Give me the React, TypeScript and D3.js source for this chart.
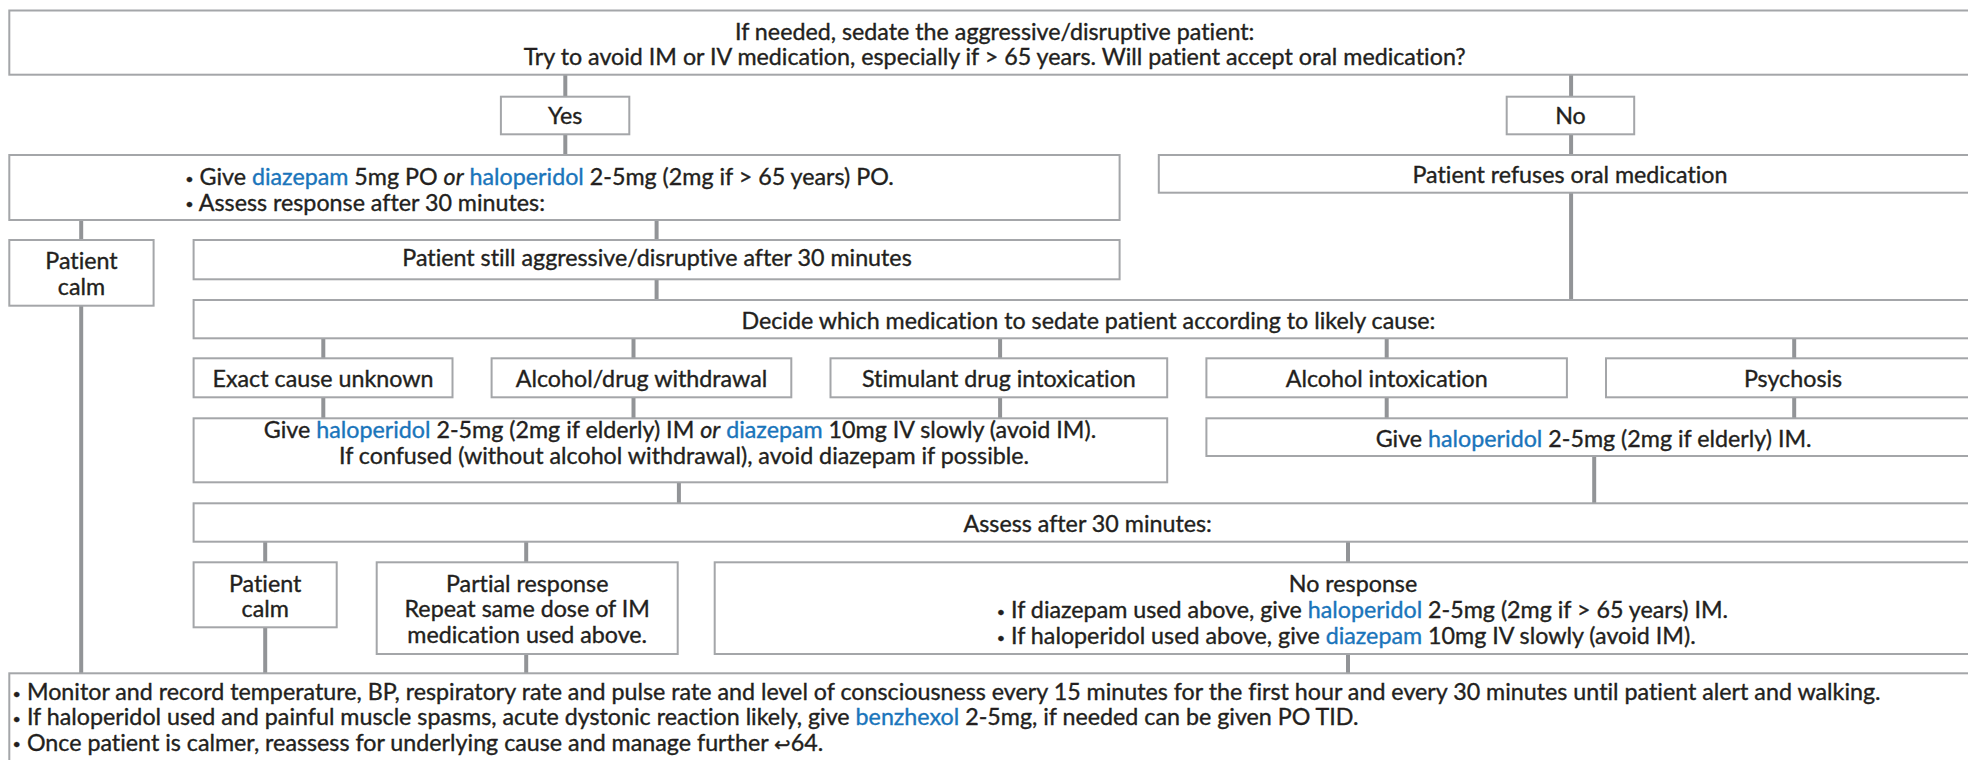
import React, { useEffect, useRef } from "react";
import * as d3 from "d3";

type Seg = { t: string; blue?: boolean; it?: boolean; sym?: boolean; bul?: boolean };

// ---------- text content ----------
const questionLines = [
  "If needed, sedate the aggressive/disruptive patient:",
  "Try to avoid IM or IV medication, especially if > 65 years. Will patient accept oral medication?",
];
const answerLabels = ["Yes", "No"];
const BUL: Seg = { t: "•", bul: true };
const oralLines: Seg[][] = [
  [BUL, { t: " Give " }, { t: "diazepam", blue: true }, { t: " 5mg PO " }, { t: "or", it: true }, { t: " " }, { t: "haloperidol", blue: true }, { t: " 2-5mg (2mg if > 65 years) PO." }],
  [BUL, { t: " Assess response after 30 minutes:" }],
];
const refuseText = "Patient refuses oral medication";
const calmLines = ["Patient", "calm"];
const stillText = "Patient still aggressive/disruptive after 30 minutes";
const decideText = "Decide which medication to sedate patient according to likely cause:";
const causes = ["Exact cause unknown", "Alcohol/drug withdrawal", "Stimulant drug intoxication", "Alcohol intoxication", "Psychosis"];
const imIvLines: Seg[][] = [
  [{ t: "Give " }, { t: "haloperidol", blue: true }, { t: " 2-5mg (2mg if elderly) IM " }, { t: "or", it: true }, { t: " " }, { t: "diazepam", blue: true }, { t: " 10mg IV slowly (avoid IM)." }],
  [{ t: "If confused (without alcohol withdrawal), avoid diazepam if possible." }],
];
const haloImLine: Seg[] = [{ t: "Give " }, { t: "haloperidol", blue: true }, { t: " 2-5mg (2mg if elderly) IM." }];
const assessText = "Assess after 30 minutes:";
const partialLines = ["Partial response", "Repeat same dose of IM", "medication used above."];
const noRespTitle = "No response";
const noRespLines: Seg[][] = [
  [BUL, { t: " If diazepam used above, give " }, { t: "haloperidol", blue: true }, { t: " 2-5mg (2mg if > 65 years) IM." }],
  [BUL, { t: " If haloperidol used above, give " }, { t: "diazepam", blue: true }, { t: " 10mg IV slowly (avoid IM)." }],
];
const monitorLines: Seg[][] = [
  [BUL, { t: " Monitor and record temperature, BP, respiratory rate and pulse rate and level of consciousness every 15 minutes for the first hour and every 30 minutes until patient alert and walking." }],
  [BUL, { t: " If haloperidol used and painful muscle spasms, acute dystonic reaction likely, give " }, { t: "benzhexol", blue: true }, { t: " 2-5mg, if needed can be given PO TID." }],
  [BUL, { t: " Once patient is calmer, reassess for underlying cause and manage further " }, { t: "↩", sym: true }, { t: "64." }],
];

// ---------- layout ----------
const R = 1995; // boxes run past the right edge
const B = 790; // bottom box runs past the lower edge
const boxes = [
  [9.3, R, 10.5, 74.7],
  [500.9, 629.3, 96.7, 134.3],
  [1506.7, 1634.2, 96.7, 134.3],
  [9.3, 1119.6, 155, 220],
  [1158.8, R, 155, 192.7],
  [9.3, 153.6, 240, 305.7],
  [193.6, 1119.6, 240, 279.3],
  [193.6, R, 300, 338.3],
  [193.6, 452.5, 358.3, 397.3],
  [491.6, 791.3, 358.3, 397.3],
  [830.5, 1167.2, 358.3, 397.3],
  [1206.4, 1566.9, 358.3, 397.3],
  [1606, R, 358.3, 397.3],
  [193.6, 1167.2, 418.3, 482.3],
  [1206.4, R, 418.3, 456],
  [193.6, R, 503.3, 541.7],
  [193.6, 336.7, 562.3, 627.3],
  [376.7, 677.7, 562.3, 654],
  [714.7, R, 562.3, 654],
  [9.3, R, 673.3, B],
];
const connectors = [
  [565.3, 74.7, 96.7], [565.3, 134.3, 155],
  [1571.1, 74.7, 96.7], [1571.1, 134.3, 155], [1571.1, 192.7, 300],
  [81.2, 220, 240], [81.2, 305.7, 673.3],
  [656.6, 220, 240], [656.6, 279.3, 300],
  [323.3, 338.3, 358.3], [633.5, 338.3, 358.3], [1000.1, 338.3, 358.3], [1386.7, 338.3, 358.3], [1794.2, 338.3, 358.3],
  [323.3, 397.3, 418.3], [633.5, 397.3, 418.3], [1000.1, 397.3, 418.3], [1386.7, 397.3, 418.3], [1794.2, 397.3, 418.3],
  [678.9, 482.3, 503.3], [1594.2, 456, 503.3],
  [265.2, 541.7, 562.3], [265.2, 627.3, 673.3],
  [526.2, 541.7, 562.3], [526.2, 654, 673.3],
  [1348, 541.7, 562.3], [1348, 654, 673.3],
];
const causeCenters = [323, 641.5, 998.9, 1386.7, 1793];

type TL = { x: number; y: number; a: "middle" | "start"; segs: Seg[] };
const P = (t: string): Seg[] => [{ t }];

const texts: TL[] = [
  { x: 994.7, y: 39.5, a: "middle", segs: P(questionLines[0]) },
  { x: 994.7, y: 65, a: "middle", segs: P(questionLines[1]) },
  { x: 565.1, y: 124.3, a: "middle", segs: P(answerLabels[0]) },
  { x: 1570.5, y: 124.3, a: "middle", segs: P(answerLabels[1]) },
  { x: 185.2, y: 185, a: "start", segs: oralLines[0] },
  { x: 185.2, y: 210.7, a: "start", segs: oralLines[1] },
  { x: 1570, y: 183.3, a: "middle", segs: P(refuseText) },
  { x: 81.5, y: 269.3, a: "middle", segs: P(calmLines[0]) },
  { x: 81.5, y: 295, a: "middle", segs: P(calmLines[1]) },
  { x: 657, y: 266, a: "middle", segs: P(stillText) },
  { x: 1088.4, y: 329, a: "middle", segs: P(decideText) },
  ...causes.map((c, i) => ({ x: causeCenters[i], y: 386.7, a: "middle" as const, segs: P(c) })),
  { x: 680, y: 438.3, a: "middle", segs: imIvLines[0] },
  { x: 684, y: 464, a: "middle", segs: imIvLines[1] },
  { x: 1593.6, y: 446.7, a: "middle", segs: haloImLine },
  { x: 1087.7, y: 532.3, a: "middle", segs: P(assessText) },
  { x: 265.2, y: 591.7, a: "middle", segs: P(calmLines[0]) },
  { x: 265.2, y: 616.7, a: "middle", segs: P(calmLines[1]) },
  { x: 527.2, y: 591.7, a: "middle", segs: P(partialLines[0]) },
  { x: 527.2, y: 617.3, a: "middle", segs: P(partialLines[1]) },
  { x: 527.2, y: 642.7, a: "middle", segs: P(partialLines[2]) },
  { x: 1353, y: 591.7, a: "middle", segs: P(noRespTitle) },
  { x: 996.7, y: 618.3, a: "start", segs: noRespLines[0] },
  { x: 996.7, y: 644, a: "start", segs: noRespLines[1] },
  { x: 12.6, y: 700, a: "start", segs: monitorLines[0] },
  { x: 12.6, y: 725, a: "start", segs: monitorLines[1] },
  { x: 12.6, y: 750.5, a: "start", segs: monitorLines[2] },
];

const FONT = "Lato, 'Noto Sans', sans-serif";
const FS = 22.5;
const TEXT = "#231f20";
const BLUE = "#1a75bb";
const BOX = "#a4a6a9";
const LINK = "#929497";

// calibration strings and their widths in the reference
const calib: [string, number][] = [
  [refuseText, 313.6],
  [decideText, 698.5],
  [causes[0], 218.8],
];

export default function App() {
  const ref = useRef<SVGSVGElement | null>(null);

  useEffect(() => {
    const draw = () => {
      const svg = d3.select(ref.current!);
      svg.selectAll("*").remove();

      let measured = 0;
      let target = 0;
      calib.forEach(([s, w]) => {
        const t = svg
          .append("text")
          .attr("font-family", FONT)
          .attr("font-size", FS)
          .style("font-variant-ligatures", "none")
          .text(s);
        measured += (t.node() as SVGTextElement).getComputedTextLength();
        target += w;
        t.remove();
      });
      const k = measured > 0 ? target / measured : 1;

      svg.append("rect").attr("width", 1968).attr("height", 760).attr("fill", "#ffffff");

      svg
        .append("g")
        .selectAll("line")
        .data(connectors)
        .join("line")
        .attr("x1", (d) => d[0])
        .attr("x2", (d) => d[0])
        .attr("y1", (d) => d[1])
        .attr("y2", (d) => d[2])
        .attr("stroke", LINK)
        .attr("stroke-width", 4);

      svg
        .append("g")
        .selectAll("rect")
        .data(boxes)
        .join("rect")
        .attr("x", (d) => d[0])
        .attr("y", (d) => d[2])
        .attr("width", (d) => d[1] - d[0])
        .attr("height", (d) => d[3] - d[2])
        .attr("fill", "none")
        .attr("stroke", BOX)
        .attr("stroke-width", 2);

      const tg = svg
        .append("g")
        .attr("font-family", FONT)
        .attr("font-size", FS)
        .attr("fill", TEXT)
        .style("font-variant-ligatures", "none");
      texts.forEach((tl) => {
        const t = tg
          .append("text")
          .attr("transform", `translate(${tl.x},${tl.y}) scale(${k},1)`)
          .attr("text-anchor", tl.a)
          .attr("xml:space", "preserve")
          .style("white-space", "pre");
        tl.segs.forEach((s) => {
          const sp = t.append("tspan").text(s.t);
          const col = s.blue ? BLUE : TEXT;
          sp.attr("fill", col).attr("stroke", col).attr("stroke-width", 0.35);
          if (s.it) sp.attr("font-style", "italic");
          if (s.sym) sp.attr("font-family", "'DejaVu Sans', sans-serif").attr("font-size", FS * 0.85);
          if (s.bul) sp.attr("font-size", FS * 0.62).attr("dy", -1.5);
          if (s.bul) {
            // restore baseline for following text
            (sp as any).__bul = true;
          }
        });
        // reset any dy shift from bullets
        t.selectAll("tspan").each(function (_d, i, nodes) {
          const prev = i > 0 ? (nodes[i - 1] as SVGTSpanElement) : null;
          if (prev && prev.getAttribute("dy") === "-1.5") {
            d3.select(this as SVGTSpanElement).attr("dy", 1.5);
          }
        });
      });
    };
    draw();
    if ((document as any).fonts && (document as any).fonts.ready) {
      (document as any).fonts.ready.then(draw);
    }
  }, []);

  return (
    <svg
      ref={ref}
      width={1968}
      height={760}
      style={{ position: "absolute", left: 0, top: 0, overflow: "hidden", display: "block" }}
    />
  );
}
